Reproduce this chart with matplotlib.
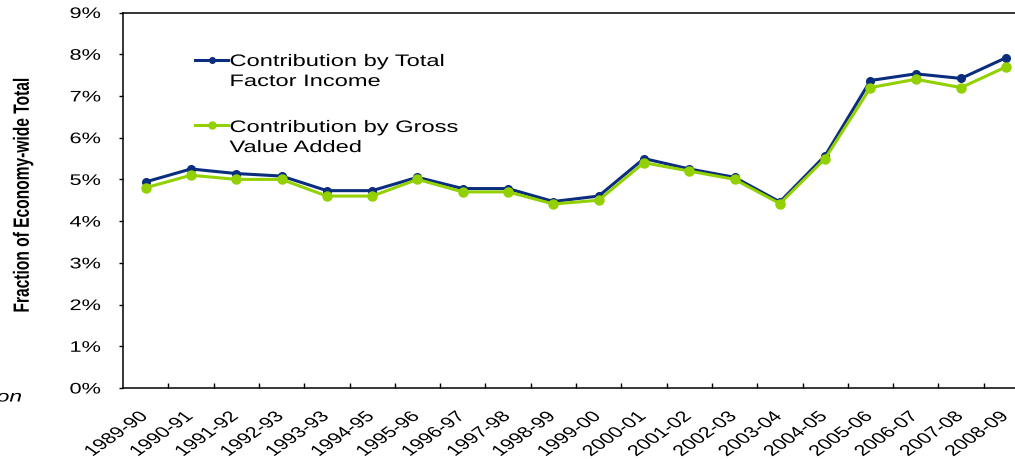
import numpy as np
import matplotlib.pyplot as plt
from matplotlib.lines import Line2D
from matplotlib.patheffects import AbstractPathEffect
from matplotlib.ticker import FixedLocator, PercentFormatter
from matplotlib.transforms import Affine2D

plt.rcParams['font.family'] = ['Liberation Sans', 'DejaVu Sans']

years = ['1989-90', '1990-91', '1991-92', '1992-93', '1993-93', '1994-95',
         '1995-96', '1996-97', '1997-98', '1998-99', '1999-00', '2000-01',
         '2001-02', '2002-03', '2003-04', '2004-05', '2005-06', '2006-07',
         '2007-08', '2008-09']

# shares in percent of the economy-wide total
factor_income = [4.94, 5.25, 5.14, 5.08, 4.73, 4.73, 5.05, 4.78, 4.78, 4.47,
                 4.60, 5.50, 5.25, 5.05, 4.46, 5.57, 7.37, 7.53, 7.42, 7.92]
gross_value_added = [4.80, 5.10, 5.00, 5.00, 4.60, 4.60, 5.00, 4.70, 4.70, 4.41,
                     4.50, 5.40, 5.20, 5.00, 4.42, 5.50, 7.20, 7.40, 7.20, 7.70]

blue = '#0B2D7E'
green = '#92D000'
STRETCH = 1.42


class WideText(AbstractPathEffect):
    """Draw a text wider than its font, keeping its anchor point fixed."""

    def __init__(self, text, sx=STRETCH, dx=0.0):
        super().__init__()
        self.text, self.sx, self.dx = text, sx, dx

    def draw_path(self, renderer, gc, tpath, affine, rgbFace=None):
        x0, _ = self.text.get_transform().transform(self.text.get_unitless_position())
        widen = Affine2D().translate(-x0, 0).scale(self.sx, 1).translate(x0 + self.dx, 0)
        renderer.draw_path(gc, tpath, affine + widen, rgbFace)


def widen(text, dx=0.0):
    text.set_path_effects([WideText(text, dx=dx)])


fig = plt.figure(figsize=(10.15, 4.59), dpi=100)
ax = fig.add_axes([123 / 1015, 71 / 459, 906 / 1015, 375.5 / 459])

x = np.arange(len(years))
ax.plot(x, factor_income, color=blue, lw=2.2, marker='o', ms=5.5, zorder=3)
ax.plot(x, gross_value_added, color=green, lw=2.2, marker='o', ms=6.5, zorder=3)

ax.set_xlim(-0.5, len(years) - 0.5)
ax.set_ylim(0, 9)

# category labels sit between the boundary ticks
ax.xaxis.set_major_locator(FixedLocator(x))
ax.set_xticklabels(years, rotation=45, ha='right', va='center',
                   rotation_mode='anchor', fontsize=11)
ax.xaxis.set_minor_locator(FixedLocator(np.arange(0.5, len(years), 1)))
ax.tick_params(axis='x', which='major', length=0, pad=19)
ax.tick_params(axis='x', which='minor', direction='in', length=3.5, width=1)
for lbl in ax.get_xticklabels():
    widen(lbl, dx=-1)

ax.set_yticks(np.arange(0, 10, 1))
ax.yaxis.set_major_formatter(PercentFormatter(decimals=0))
ax.tick_params(axis='y', direction='out', length=3, width=1, pad=13, labelsize=11)
for lbl in ax.get_yticklabels():
    widen(lbl)

for side in ['left', 'bottom', 'top']:
    ax.spines[side].set_linewidth(1.1)
ax.spines['right'].set_visible(False)

ylab = ax.set_ylabel('Fraction of Economy-wide Total', fontsize=11.2, fontweight='bold')
ax.yaxis.set_label_coords(-0.0993, 0.5127)
widen(ylab)

# two-line legend entries with the handle beside the first line
entries = [(blue, 5.5, 'Contribution by Total\nFactor Income', 0.8735, 0.8895),
           (green, 6.5, 'Contribution by Gross\nValue Added', 0.700, 0.7137)]
for col, ms, label, yy, ytop in entries:
    ax.add_line(Line2D([0.0795, 0.1159], [yy, yy], transform=ax.transAxes,
                       color=col, lw=2.2, clip_on=False))
    ax.add_line(Line2D([0.0977], [yy], transform=ax.transAxes, color=col,
                       marker='o', ms=ms - 1.5, clip_on=False))
    t = ax.text(0.1175, ytop, label, transform=ax.transAxes, fontsize=12,
                va='top', ha='left', linespacing=1.42)
    widen(t)

note = fig.text(22 / 1015, 1 - 397 / 459, 'on', ha='right', va='center',
                fontsize=11.5, style='italic')
widen(note)

fig.savefig('out.png', dpi=100)
